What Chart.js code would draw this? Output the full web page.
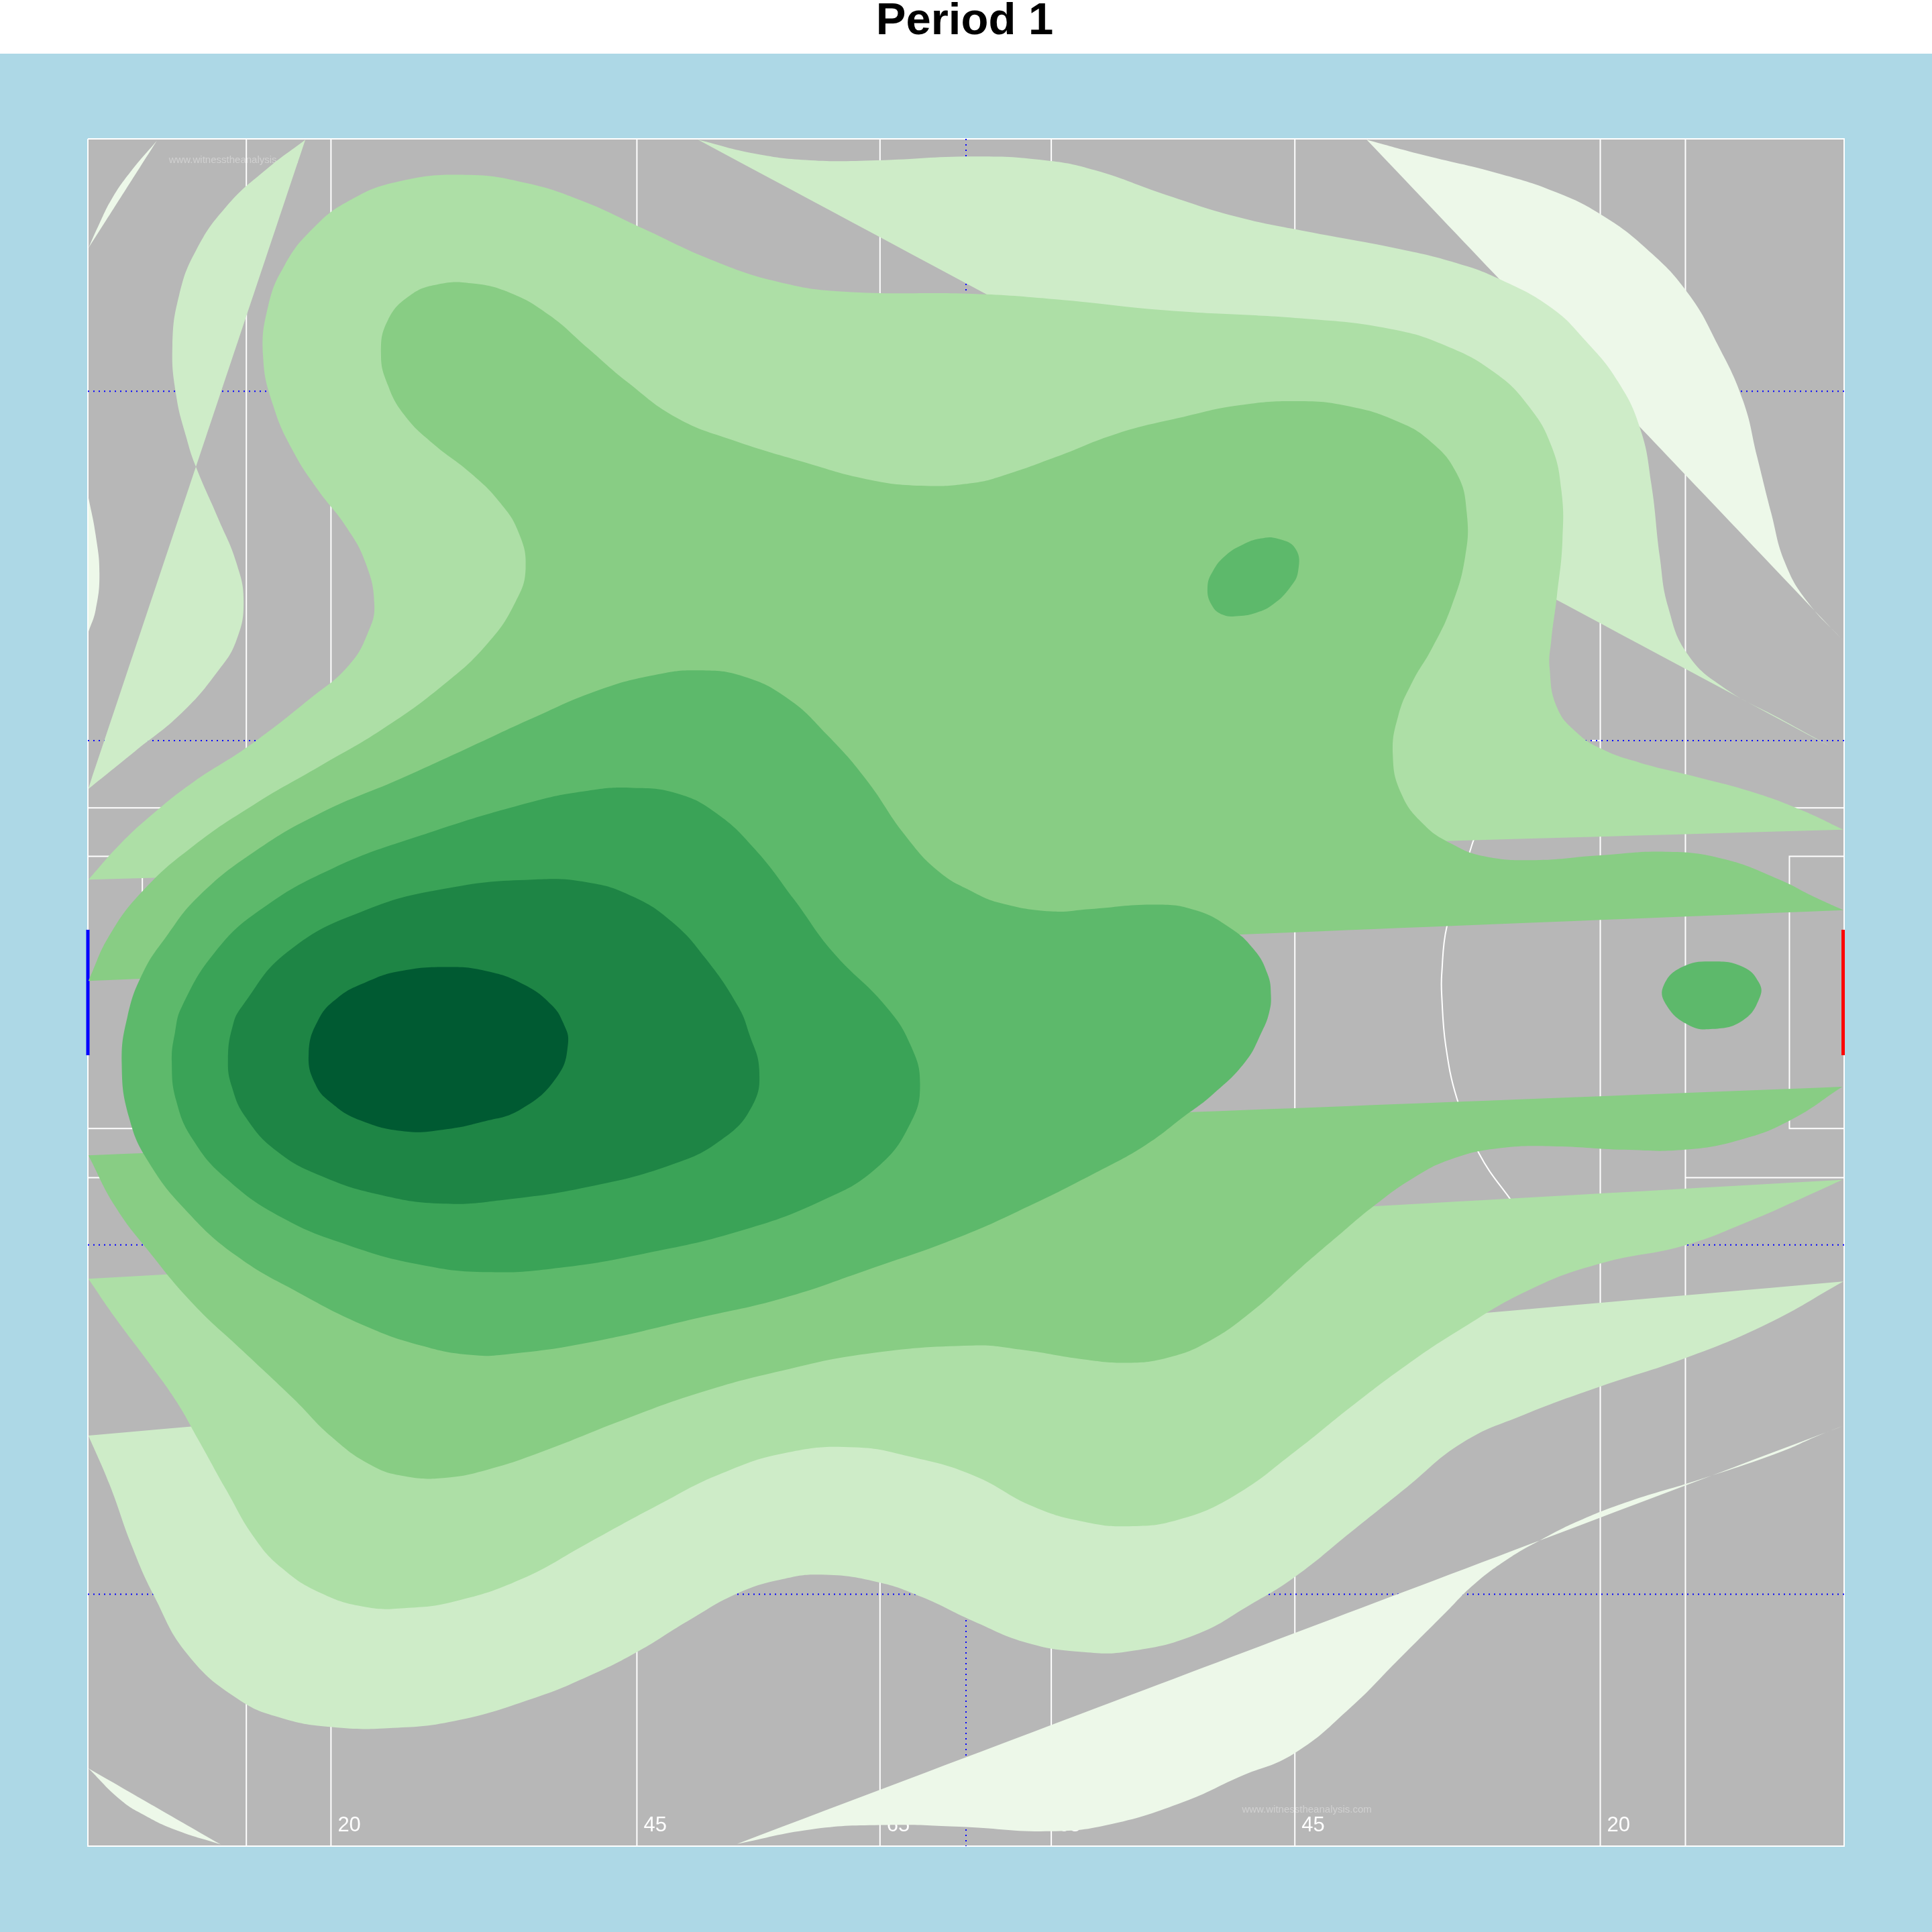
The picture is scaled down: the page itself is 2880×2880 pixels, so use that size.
<!DOCTYPE html>
<html>
<head>
<meta charset="utf-8">
<title>Period 1</title>
<script src="https://cdn.jsdelivr.net/npm/chart.js@4"></script>
<style>
  html, body { margin: 0; padding: 0; background: #ADD8E6; }
  canvas { display: block; }
</style>
</head>
<body>
<canvas id="pitchChart" width="2880" height="2880"></canvas>
<script>
// Contour bands, [x, y] in pitch units. A point written twice is a sharp corner.
const band1TopLeft = [[71.7,201.5],[71.7,201.5],[79.8,183.4],[91.1,160.8],[106.9,138.2],[127.2,114.3],[127.2,114.3],[71.7,201.5]];
const band1Left = [[71.7,403.3],[71.7,403.3],[77.6,434],[80.7,465.6],[77.6,495],[71.7,513],[71.7,513],[71.7,403.3]];
const band1TopRight = [[1109.2,113.4],[1109.2,113.4],[1150.7,124.7],[1218.4,141.4],[1263.6,156.3],[1299.7,174.4],[1335.8,201.5],[1369.7,237.6],[1394.5,280.5],[1414.8,325.6],[1426.1,370.8],[1437.4,415.9],[1448.7,456.6],[1466.8,488.2],[1496,519.8],[1496,519.8],[1109.2,113.4]];
const band1BottomLeft = [[71.7,1435.1],[71.7,1435.1],[97.9,1460.9],[116,1472.6],[142,1485],[179.2,1497],[179.2,1497],[71.7,1435.1]];
const band1Bottom = [[598.2,1496.5],[598.2,1496.5],[657.8,1484.8],[714.2,1481.2],[778.8,1482.5],[852.7,1486.2],[902.4,1480.3],[961,1462.2],[1006.2,1441.9],[1050.5,1423],[1096.5,1385.5],[1132.6,1349.4],[1173.3,1308.7],[1195.9,1286.2],[1222.9,1265.8],[1250,1250],[1281.6,1234.2],[1322.3,1218.4],[1376.5,1201.7],[1444.2,1178.7],[1475.8,1165.1],[1495.2,1157.5],[1495.2,1157.5],[598.2,1496.5]];

const band2Left = [[247.8,113.4],[247.8,113.4],[215.3,138.2],[183.7,167.6],[158.8,203.7],[145.3,239.8],[139.9,280.5],[143,321.1],[151.2,355],[158.8,378.4],[176.9,420.4],[191.8,456.6],[197.7,488.2],[191.8,519.8],[176.9,544.6],[147.6,578.5],[109.2,610],[71.7,640.3],[71.7,640.3],[247.8,113.4]];
const band2Top = [[566.5,113.4],[566.5,113.4],[612.6,124.7],[657.8,130.1],[711.9,130.1],[789.5,127],[848.2,130.1],[888.8,138.2],[947.5,158.6],[1006.2,176.6],[1060.4,187.9],[1132.6,201.5],[1182.3,213.6],[1218.4,227.2],[1259,249.8],[1286.2,275.9],[1313.2,309.8],[1331.3,348.2],[1340.3,393.3],[1347.1,452],[1353.9,492.7],[1369.7,531],[1399,558],[1444.2,583],[1489.3,607.8],[1489.3,607.8],[566.5,113.4]];
const band2Bottom = [[1496.1,1040],[1496.1,1040],[71.7,1165.1],[71.7,1165.1],[88.9,1204.9],[106.9,1254.5],[125,1295.2],[152.1,1342.6],[192.7,1378.7],[228.8,1394.5],[269.5,1401.7],[314.6,1402.6],[368.8,1396.8],[432,1378.7],[477.2,1360.6],[517.8,1340.3],[558.4,1315.5],[599.1,1292.9],[635.2,1281.6],[666.8,1278],[711.9,1283.9],[748,1296.1],[789.5,1315.5],[834.6,1333.6],[879.8,1340.8],[915.9,1340.3],[970.1,1326.8],[1015.3,1302],[1051.4,1279.4],[1096.5,1243.3],[1141.7,1207.1],[1186.8,1171],[1236.5,1148.4],[1299.7,1125],[1367.4,1102.4],[1435.1,1074],[1496.1,1040]];

const band3Top = [[71.7,713.9],[71.7,713.9],[97.9,684.6],[125,659.7],[156.6,634.9],[201.7,605.6],[251.4,567.2],[283,540.1],[298.8,513],[303.8,490.4],[296.6,456.6],[280.7,427.2],[258.2,397.9],[237.9,366.3],[222,330.1],[213.5,289.5],[217.5,248.9],[231.1,215],[253.7,185.7],[283,163.1],[323.6,147.3],[377.8,141.9],[427.5,148.6],[472.6,163.1],[522.3,185.7],[576.5,210.5],[630.7,228.5],[684.8,236.7],[789.5,238.5],[857.2,243],[947.5,252],[1060.4,258.8],[1128.1,266.9],[1173.3,280.5],[1213.9,303],[1241,330.1],[1259,361.7],[1267.2,397.9],[1268.1,438.5],[1263.6,483.6],[1259,519.8],[1257.7,542.3],[1263.6,574],[1279.4,594.3],[1299.7,607.8],[1331.3,619.1],[1376.5,630.4],[1421.6,642.6],[1462.2,657.5],[1496.1,673.3],[1496.1,673.3],[71.7,713.9]];
const band3Bottom = [[71.7,1037.8],[71.7,1037.8],[93.4,1069.4],[120.5,1105.6],[143,1137.2],[161.1,1168.8],[183.7,1209.4],[206.3,1247.8],[228.8,1272.6],[260.4,1292.9],[296.6,1304.2],[328.2,1305.1],[368.8,1299.7],[423,1281.6],[477.2,1252.3],[531.3,1223],[585.5,1195.9],[639.7,1178.7],[693.9,1174.6],[739,1182.3],[789.5,1197.2],[839.2,1223],[879.8,1235.1],[915.9,1238.7],[956.6,1233.3],[1001.7,1213.9],[1051.4,1177.8],[1096.5,1141.7],[1141.7,1107.8],[1182.3,1080.7],[1241,1046.9],[1299.7,1025.2],[1367.4,1010.7],[1421.6,990.4],[1457.7,974.6],[1495.2,957.5],[1495.2,957.5],[71.7,1037.8]];

const band4Top = [[71.7,796.1],[71.7,796.1],[88.9,759],[116,722.9],[156.6,686.8],[206.3,652.9],[260.4,621.4],[310.1,592],[359.8,555.9],[395.9,522],[418.5,488.2],[426.6,461.1],[420.7,431.7],[404.9,406.9],[382.3,384.3],[350.7,359.5],[328.2,336.9],[314.6,312.1],[309.2,287.2],[314.6,260.2],[332.7,239.8],[355.2,230.8],[382.3,229.9],[413.9,237.6],[445.6,255.6],[477.2,282.7],[508.8,309.8],[549.4,339.2],[594.5,357.2],[653.2,375.3],[702.9,388.8],[748,394.2],[789.5,392],[816.6,385.2],[857.2,370.8],[906.9,351.8],[956.6,339.2],[1006.2,328.8],[1055.9,325.6],[1096.5,330.1],[1132.6,341.4],[1159.7,357.2],[1182.3,384.3],[1190.4,415.9],[1189.1,452],[1177.8,492.7],[1162,526.5],[1146.2,553.6],[1134.9,580.7],[1130.4,612.3],[1137.2,643.9],[1155.2,668.8],[1177.8,684.6],[1204.9,695],[1245.5,698.1],[1295.2,694.5],[1353.9,691.3],[1399,697.2],[1444.2,713.9],[1471.3,727.4],[1496.1,738.7],[1496.1,738.7],[71.7,796.1]];
const band4Bottom = [[71.7,937.6],[71.7,937.6],[93.4,979.1],[120.5,1015.3],[156.6,1058.1],[197.2,1096.5],[237.9,1134.9],[269.5,1166.5],[301.1,1189.1],[328.2,1198.1],[359.8,1199.5],[395.9,1192.7],[441,1177.8],[504.2,1153],[567.5,1130.4],[635.2,1112.3],[702.9,1098.8],[789.5,1092],[830.1,1095.6],[879.8,1103.3],[915.9,1106],[947.5,1101.9],[979.1,1089.7],[1015.3,1064.9],[1055.9,1028.8],[1087.5,1001.7],[1114.6,979.1],[1146.2,956.6],[1177.8,940.8],[1218.4,931.7],[1263.6,930.4],[1317.8,933.1],[1367.4,933.1],[1412.6,925],[1453.2,909.1],[1495.2,882],[1495.2,882],[71.7,937.6]];

const band5Main = [[98.8,864],[103.3,825.6],[116,789.5],[135,760],[161.1,727.5],[206.3,691.3],[260.4,659.7],[323.6,632.6],[377.8,608],[432,583],[486.2,560],[531.3,547.8],[567.5,544.1],[603.6,549.1],[639.7,567.2],[671.3,596.5],[702.9,632.6],[734.5,677.8],[761.6,707.1],[789.5,723.8],[812.1,732.9],[852.7,739.6],[884.3,737.8],[938.5,734.2],[970.1,738.7],[997.2,752.3],[1017.5,770.4],[1028.8,790.7],[1031.5,808],[1030,822],[1024.3,836.9],[1010.7,861.7],[983.6,888.8],[961.1,906],[929.5,929.5],[888.8,952],[834.6,979.1],[778.8,1004],[702.9,1031],[635.2,1053.6],[567.5,1069.4],[477.2,1089.7],[414,1098.8],[382.3,1099.7],[341.7,1092],[296.6,1076.2],[242.4,1049.1],[192.7,1019.8],[152.1,983.6],[120.5,943],[104.7,906.9],[98.8,864]];
const band5Upper = [[980,476.9],[984.5,463.3],[994.9,450.7],[1008.5,442.1],[1022.9,437.1],[1036.5,437.1],[1051.4,445.3],[1053.6,463.3],[1046.9,476.9],[1033.3,490.4],[1019.8,497.2],[1005.3,499.9],[992.7,499],[983.6,491.3],[980,476.9]];
const band5Goal = [[1350.3,799.7],[1365.2,784.8],[1390,780.3],[1414.8,784.8],[1427.5,797.4],[1428.4,809],[1414.8,827.9],[1390,835.1],[1369.7,831.5],[1351.6,814.3],[1350.3,799.7]];

const band6 = [[139.4,861.7],[142,838],[147.6,816.9],[174.6,772.6],[210.8,738.7],[269.5,705],[341.7,678],[432,650.7],[477.2,641.7],[513.3,639.4],[549.4,643.9],[581,659.7],[612.6,689.1],[644.2,729.7],[675.8,772.6],[719,816.8],[739,848.2],[746.7,879.8],[739,911.4],[711.9,947.5],[666.8,974.6],[599.1,999.5],[522.3,1017.5],[454.6,1028.8],[395.9,1032.4],[341.7,1026.5],[283,1010.7],[228.8,988.2],[183.7,956.6],[156.6,925],[143,893.3],[139.4,861.7]];
const band7 = [[185,859.5],[189,832],[196.3,816.9],[233.3,772.6],[296.6,738.7],[364.3,720.7],[432,713.9],[477.2,716.2],[513.3,727.5],[544.9,747.8],[572,777.1],[599.1,816.9],[608.1,839.2],[616.2,868.5],[610.3,897.9],[585.5,925],[544.9,945.3],[477.2,963.3],[409.4,973.7],[359.8,976.9],[310.1,970.1],[260.4,954.3],[224.3,934],[199.5,906.9],[188.2,882.1],[185,859.5]];
const band8 = [[250.5,855],[258.2,827.9],[274,809.8],[296.6,797.4],[323.6,788.4],[364.3,784.8],[395.9,788.4],[425,799],[447,815],[457,830],[461,847],[452,874],[423,900.1],[391.4,910.5],[359.8,916.8],[328.2,918.2],[292,909.1],[269.5,895.6],[255.9,879.8],[250.5,855]];

// Greens, light to dark
const bandColors = ['#EDF8E9', '#CEECC8', '#ADDFA6', '#88CD84', '#5DB96B', '#3AA357', '#1E8545', '#005A32'];
const bands = [
  [band1TopLeft, band1Left, band1TopRight, band1BottomLeft, band1Bottom],
  [band2Left, band2Top, band2Bottom],
  [band3Top, band3Bottom],
  [band4Top, band4Bottom],
  [band5Main, band5Upper, band5Goal],
  [band6],
  [band7],
  [band8]
];
const loopBands = [band5Main, band5Upper, band5Goal, band6, band7, band8];

// Pitch markings
const xMin = 71.3, xMax = 1496.7, yMin = 112.7, yMax = 1498.3;
const pitchFrame = [[xMin,yMin],[xMax,yMin],[xMax,yMax],[xMin,yMax],[xMin,yMin]];
const pitchVerticals = [199.9, 268.6, 516.9, 714.2, 853.2, 1050.9, 1298.8, 1367.9];
const pitchBoxes = [
  [[xMin,655.7],[199.9,655.7]], [[xMin,955.7],[199.9,955.7]],
  [[xMin,695],[115.5,695],[115.5,915.9],[xMin,915.9]],
  [[1367.9,655.7],[xMax,655.7]], [[1367.9,955.7],[xMax,955.7]],
  [[xMax,695],[1452.3,695],[1452.3,915.9],[xMax,915.9]],
  [[1291.6,601],[1298.8,601]]
];
const pitchArc = [[1204,662],[1195.9,682],[1193.6,689],[1174.2,752.3],[1170.1,790.7],[1170.1,807.6],[1173.3,848.2],[1182.3,891.1],[1200.4,936.2],[1225.2,972.4],[1240,990]];
const dottedVertical = [784];
const dottedHorizontals = [317.5, 601, 1010.3, 1293.8];
const ownGoal = [[71.3,754.6],[71.3,856.4]];
const oppGoal = [[1495.9,754.6],[1495.9,856.4]];

const tickValues = [268.6, 516.9, 714.2, 853.2, 1050.9, 1298.8];
const tickLabels = ['20', '45', '65', '65', '45', '20'];
const watermarks = [[137, 132.3], [1008, 1471]];

const toXY = points => points.map(p => ({ x: p[0], y: p[1] }));

const lineSet = (points, color, width, dash) => ({
  data: toXY(points),
  showLine: true,
  borderColor: color,
  borderWidth: width,
  borderDash: dash || [],
  pointRadius: 0,
  tension: 0,
  clip: false
});

const datasets = [];
datasets.push(lineSet(pitchFrame, '#FFFFFF', 2));
pitchVerticals.forEach(x => datasets.push(lineSet([[x, yMin], [x, yMax]], '#FFFFFF', 2)));
pitchBoxes.forEach(b => datasets.push(lineSet(b, '#FFFFFF', 2)));
datasets.push({ ...lineSet(pitchArc, '#FFFFFF', 2), tension: 0.4 });
dottedVertical.forEach(x => datasets.push(lineSet([[x, yMin], [x, yMax]], '#0000FF', 2, [2, 6])));
dottedHorizontals.forEach(y => datasets.push(lineSet([[xMin, y], [xMax, y]], '#0000FF', 2, [2, 6])));
datasets.push(lineSet(ownGoal, '#0000FF', 5));
datasets.push(lineSet(oppGoal, '#FF0000', 5));

bands.forEach((group, i) => {
  group.forEach(points => {
    // closed rings run one point past the seam each way so the curve has no kink there
    const ring = loopBands.includes(points)
      ? [points[points.length - 2], ...points, points[1]]
      : points;
    datasets.push({
      data: toXY(ring),
      showLine: true,
      borderWidth: 0,
      pointRadius: 0,
      tension: 0.45,
      backgroundColor: bandColors[i],
      band: true
    });
  });
});

// Chart.js draws the first dataset last, so flip to paint light bands under dark ones
datasets.reverse();

const pitchBackground = {
  id: 'pitchBackground',
  beforeDraw(chart) {
    const { ctx, chartArea } = chart;
    ctx.save();
    ctx.fillStyle = '#ADD8E6';
    ctx.fillRect(0, 80, chart.width, chart.height - 80);
    ctx.fillStyle = '#FFFFFF';
    ctx.fillRect(0, 0, chart.width, 80);
    ctx.fillStyle = '#B7B7B7';
    ctx.fillRect(chartArea.left, chartArea.top, chartArea.width, chartArea.height);
    ctx.fillStyle = '#000000';
    ctx.font = 'bold 67px "Liberation Sans"';
    ctx.textAlign = 'center';
    ctx.textBaseline = 'alphabetic';
    ctx.fillText('Period 1', 1438, 51);
    ctx.restore();
  },
  beforeDatasetsDraw(chart) {
    const { ctx, scales } = chart;
    ctx.save();
    ctx.textAlign = 'left';
    ctx.textBaseline = 'alphabetic';
    ctx.fillStyle = '#FFFFFF';
    ctx.font = '31px "Liberation Sans"';
    tickValues.forEach((v, i) => {
      ctx.fillText(tickLabels[i], scales.x.getPixelForValue(v) + 10, scales.y.getPixelForValue(1486.4));
    });
    ctx.fillStyle = 'rgba(255,255,255,0.35)';
    ctx.font = '15px "Liberation Sans"';
    watermarks.forEach(w => {
      ctx.fillText('www.witnesstheanalysis.com', scales.x.getPixelForValue(w[0]), scales.y.getPixelForValue(w[1]));
    });
    ctx.restore();
  },
  // closed contour: fill the line's own curve
  beforeDatasetDraw(chart, args) {
    const ds = chart.data.datasets[args.index];
    if (!ds.band) return;
    const { ctx } = chart;
    const line = chart.getDatasetMeta(args.index).dataset;
    ctx.save();
    ctx.beginPath();
    line.path(ctx);
    ctx.closePath();
    ctx.fillStyle = ds.backgroundColor;
    ctx.fill();
    ctx.restore();
  }
};

new Chart(document.getElementById('pitchChart').getContext('2d'), {
  type: 'scatter',
  data: { datasets: datasets },
  plugins: [pitchBackground],
  options: {
    responsive: false,
    animation: false,
    layout: { padding: { left: 131, right: 131, top: 207, bottom: 128 } },
    plugins: {
      legend: { display: false },
      tooltip: { enabled: false },
      title: { display: false }
    },
    scales: {
      x: { type: 'linear', display: false, min: xMin, max: xMax },
      y: { type: 'linear', display: false, reverse: true, min: yMin, max: yMax }
    }
  }
});
</script>
</body>
</html>
